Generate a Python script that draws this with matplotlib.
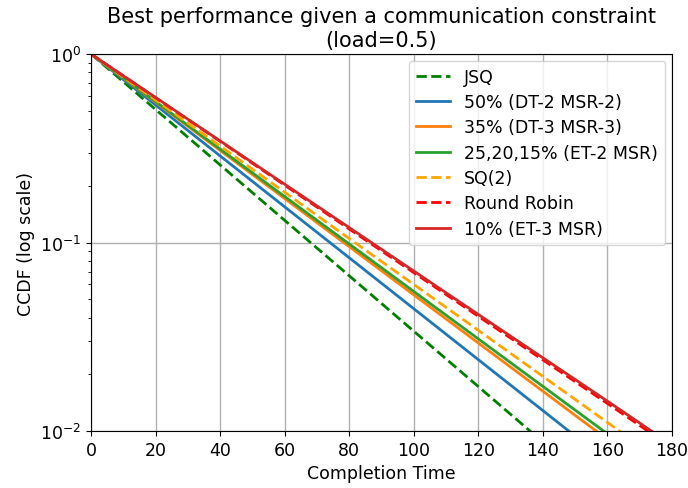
import matplotlib
matplotlib.use("Agg")
import matplotlib.pyplot as plt

times = [0, 40, 80, 120, 160, 180]

jsq = [1.0, 0.258, 0.0666, 0.0172, 0.00444, 0.00225]
p50 = [1.0, 0.288, 0.0830, 0.0239, 0.00689, 0.00370]
p35 = [1.0, 0.308, 0.0950, 0.0293, 0.00902, 0.00501]
p25 = [1.0, 0.313, 0.0982, 0.0308, 0.00966, 0.00541]
sq2 = [1.0, 0.325, 0.105, 0.0342, 0.0111, 0.00632]
rr = [1.0, 0.344, 0.118, 0.0406, 0.0140, 0.00818]
p10 = [1.0, 0.346, 0.120, 0.0415, 0.0144, 0.00843]

labels = ["JSQ", "50% (DT-2 MSR-2)", "35% (DT-3 MSR-3)", "25,20,15% (ET-2 MSR)",
          "SQ(2)", "Round Robin", "10% (ET-3 MSR)"]
series = [jsq, p50, p35, p25, sq2, rr, p10]
colors = ["green", "#1f77b4", "#ff7f0e", "#2ca02c", "orange", "red", "#d62728"]
styles = ["--", "-", "-", "-", "--", "--", "-"]
xticks = [0, 20, 40, 60, 80, 100, 120, 140, 160, 180]

fig = plt.figure(figsize=(6.88, 4.89), dpi=100)
ax = fig.add_axes([91/688, 1 - 432/489, (672-91)/688, (432-55)/489])
for y, lab, c, ls in zip(series, labels, colors, styles):
    ax.plot(times, y, ls, color=c, label=lab, linewidth=2.0)
ax.set_yscale("log")
ax.set_xlim(0, 180)
ax.set_ylim(1e-2, 1)
ax.set_xticks(xticks)
ax.grid(True, which="major", color="#b0b0b0", linewidth=1.0)
ax.tick_params(labelsize=12.5)
ax.set_xlabel("Completion Time", fontsize=12.5)
ax.set_ylabel("CCDF (log scale)", fontsize=12.5)
ax.set_title("Best performance given a communication constraint\n(load=0.5)", fontsize=15)
ax.legend(loc="upper right", fontsize=12.5, labelspacing=0.42, borderaxespad=0.4)
fig.savefig("out.png", dpi=100)
